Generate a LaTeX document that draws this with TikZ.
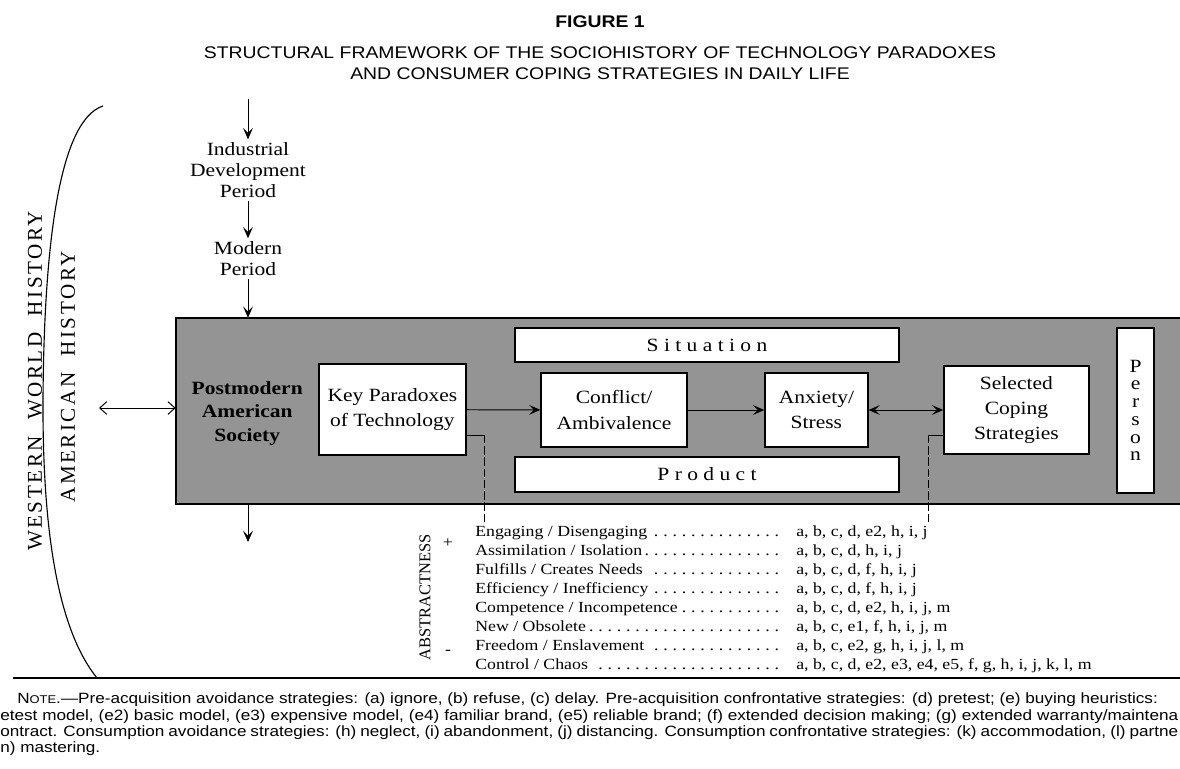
\documentclass[tikz,border=0pt]{standalone}
\usepackage{fontspec}
\setmainfont{Liberation Serif}[FakeStretch=1.15]
\setsansfont{Liberation Sans}[FakeStretch=1.15]
\newfontfamily\trackedserif{Liberation Serif}[LetterSpace=12]
\newfontfamily\uprightserif{Liberation Serif}
\usetikzlibrary{positioning, arrows.meta, calc}

\newcommand{\dotsleader}{\leaders\hbox to 6.6pt{\hss.\hss}\hfill}
\newcommand{\wordgap}{\hspace{0.4em} }
\newcommand{\fullline}[1]{\makebox[29.45cm][s]{#1}}

\tikzset{
    stage/.style={
        rectangle,
        draw,
        fill=white,
        line width=1pt,
        inner sep=0pt,
        align=center,
        font=\fontsize{13.3}{17.8}\selectfont,
    },
    period/.style={
        align=center,
        inner sep=2pt,
        font=\fontsize{13.3}{15}\selectfont,
    },
    flow/.style={
        -{Stealth[length=8pt, width=7pt, inset=3.5pt]},
        line width=0.7pt,
    },
    mutual/.style={
        {Stealth[length=8pt, width=7pt, inset=3.5pt]}-{Stealth[length=8pt, width=7pt, inset=3.5pt]},
        line width=0.7pt,
    },
    exchange/.style={
        {Straight Barb[length=5pt, width=9pt]}-{Straight Barb[length=5pt, width=9pt]},
        line width=0.7pt,
    },
    tap/.style={
        line width=0.7pt,
    },
    history label/.style={
        rotate=90,
        inner sep=0pt,
        font=\trackedserif\fontsize{15}{15}\selectfont,
    },
    paradox row/.style={
        anchor=base west,
        inner xsep=0pt,
        inner ysep=1pt,
        font=\fontsize{11}{13}\selectfont,
    },
    note line/.style={
        anchor=base west,
        inner sep=0pt,
        font=\sffamily\fontsize{10.6}{12}\selectfont,
    },
}

\begin{document}
\begin{tikzpicture}
\useasboundingbox (0,0) rectangle (29.5,-19.225);

% ── TITLE ──────────────────────────────────────────────────────────

\node[font=\sffamily\bfseries\fontsize{12}{14}\selectfont] (figlabel) at (15,-0.53) {FIGURE 1};
\node[font=\sffamily\fontsize{12}{15}\selectfont, align=center] (title) at (15,-1.59)
    {STRUCTURAL FRAMEWORK OF THE SOCIOHISTORY OF TECHNOLOGY PARADOXES\\
     AND CONSUMER COPING STRATEGIES IN DAILY LIFE};

% ── HISTORY BRACKET ────────────────────────────────────────────────

\draw[line width=0.8pt] (2.575,-2.65) .. controls (1.5,-3.0) and (1.1,-6.0) .. (1.075,-10)
    .. controls (1.06,-13.5) and (1.5,-15.8) .. (2.425,-16.95);
\node[history label] (western) at (0.875,-9.525) {WESTERN\wordgap WORLD\wordgap HISTORY};
\node[history label] (american) at (1.7,-9.425) {AMERICAN\wordgap HISTORY};

% ── PERIODS ────────────────────────────────────────────────────────

\coordinate (past) at (6.2,-2.475);
\node[period] (industrial) at (6.2,-4.25) {Industrial\\Development\\Period};
\node[period] (modern) at (6.2,-6.46) {Modern\\Period};

% ── SOCIETY PANEL ──────────────────────────────────────────────────

\node[fill=black!42, minimum width=25.1cm, minimum height=4.64cm, inner sep=0pt] (society) at (16.95,-10.27) {};
\draw[line width=1.2pt] (society.north east) -- (society.north west) -- (society.south west) -- (society.south east);

\node[period, font=\bfseries\fontsize{13.3}{16.7}\selectfont] (postmodern) at (6.18,-10.33) {Postmodern\\American\\Society};

\node[stage, minimum width=3.675cm, minimum height=2.275cm] (key) at (9.81,-10.24) {Key Paradoxes\\of Technology};
\node[stage, minimum width=9.6cm, minimum height=0.85cm] (situation) at (17.675,-8.625) {S i t u a t i o n};
\node[stage, minimum width=9.6cm, minimum height=0.875cm] (product) at (17.675,-11.86) {P r o d u c t};
\node[stage, minimum width=3.65cm, minimum height=1.85cm] (conflict) at (15.35,-10.25) {Conflict/\\Ambivalence};
\node[stage, minimum width=2.575cm, minimum height=1.85cm] (anxiety) at (20.41,-10.25) {Anxiety/\\Stress};
\node[stage, minimum width=3.625cm, minimum height=2.2cm] (coping) at (25.41,-10.25) {Selected\\Coping\\Strategies};
\node[stage, minimum width=0.925cm, minimum height=4.125cm, font=\fontsize{13.3}{12.6}\selectfont] (person) at (28.39,-10.26) {P\\e\\r\\s\\o\\n};

% ── PARADOX LIST ───────────────────────────────────────────────────

\foreach \lab/\codes [count=\i] in {
    {Engaging / Disengaging}/{a, b, c, d, e2, h, i, j},
    {Assimilation / Isolation}/{a, b, c, d, h, i, j},
    {Fulfills / Creates Needs}/{a, b, c, d, f, h, i, j},
    {Efficiency / Inefficiency}/{a, b, c, d, f, h, i, j},
    {Competence / Incompetence}/{a, b, c, d, e2, h, i, j, m},
    {New / Obsolete}/{a, b, c, e1, f, h, i, j, m},
    {Freedom / Enslavement}/{a, b, c, e2, g, h, i, j, l, m},
    {Control / Chaos}/{a, b, c, d, e2, e3, e4, e5, f, g, h, i, j, k, l, m}} {
    \node[paradox row] (row\i) at (11.875,{-13.4-0.475*(\i-1)})
        {\makebox[8.025cm][l]{\lab\dotsleader\hspace{0.325cm}}\codes};
}

\node[rotate=90, inner sep=0pt, font=\uprightserif\fontsize{11.7}{12}\selectfont] (abstract) at (10.625,-14.93) {ABSTRACTNESS};
\node[font=\fontsize{11}{12}\selectfont] (more) at (11.2,-13.575) {+};
\node[font=\fontsize{11}{12}\selectfont] (less) at (11.2,-16.3) {-};

% ── CONNECTORS ─────────────────────────────────────────────────────

\draw[flow] (past) -- (industrial);
\draw[flow] (industrial) -- (modern);
\draw[flow] (modern) -- (modern |- society.north);

\coordinate (outside) at (2.475,-10.2);
\draw[exchange] (outside) -- (outside -| society.west);
\coordinate (later) at (6.2,-13.55);
\draw[flow] (later |- society.south) -- (later);

\draw[flow] (key) -- (conflict);
\draw[flow] (conflict) -- (anxiety);
\draw[mutual] (anxiety) -- (coping);

\draw[tap] ([yshift=-0.635cm]key.east) -- ++(0.45,0) coordinate (keytap);
\draw[tap, dash pattern=on 6pt off 2pt] (keytap) -- (keytap |- row1.north);
\draw[tap] ([yshift=-0.625cm]coping.west) -- ++(-0.375,0) coordinate (copingtap);
\draw[tap, dash pattern=on 6pt off 2pt] (copingtap) -- (copingtap |- row1.north);

% ── RULE AND NOTE ──────────────────────────────────────────────────

\draw[line width=1.8pt] (0.325,-16.95) -- (29.5,-16.95);

\node[note line] (note1) at (0.425,-17.575)
    {N{\fontsize{8}{9}\selectfont OTE}.—Pre-acquisition avoidance strategies: (a) ignore, (b) refuse, (c) delay. Pre-acquisition confrontative strategies: (d) pretest; (e) buying heuristics:};
\node[note line] (note2) at (0,-18.0)
    {\fullline{etest model, (e2) basic model, (e3) expensive model, (e4) familiar brand, (e5) reliable brand; (f) extended decision making; (g) extended warranty/maintena}};
\node[note line] (note3) at (0,-18.4)
    {\fullline{ontract. Consumption avoidance strategies: (h) neglect, (i) abandonment, (j) distancing. Consumption confrontative strategies: (k) accommodation, (l) partne}};
\node[note line] (note4) at (0,-18.8) {n) mastering.};

\end{tikzpicture}
\end{document}
